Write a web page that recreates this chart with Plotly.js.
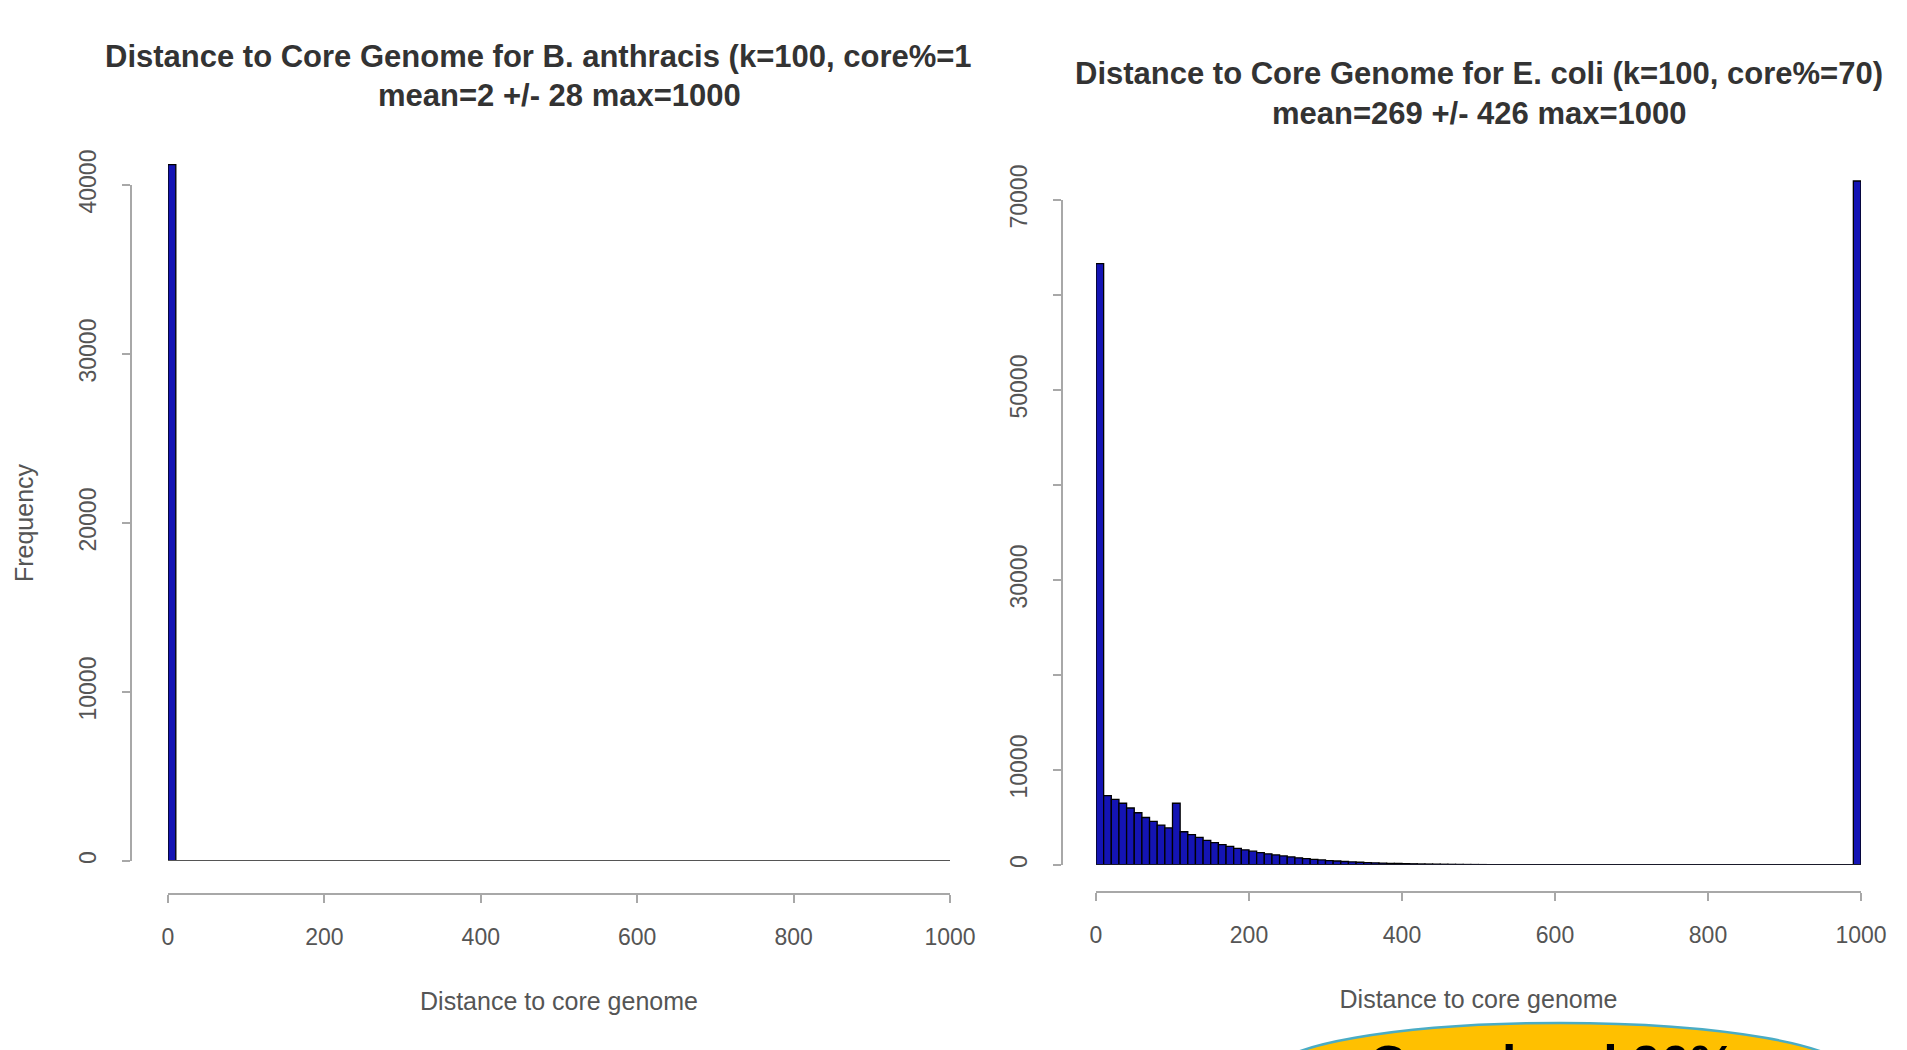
<!DOCTYPE html>
<html>
<head>
<meta charset="utf-8">
<script src="https://cdn.plot.ly/plotly-3.0.1.min.js"></script>
<style>html,body{margin:0;padding:0;background:#fff;}#chart{width:1907px;height:1050px;}</style>
</head>
<body>
<div id="chart"></div>
<script>
// Histogram bins (left edges, width 10) from 0 to 990
const binEdges = [0,10,20,30,40,50,60,70,80,90,100,110,120,130,140,150,160,170,180,190,
  200,210,220,230,240,250,260,270,280,290,300,310,320,330,340,350,360,370,380,390,
  400,410,420,430,440,450,460,470,480,490,500,510,520,530,540,550,560,570,580,590,
  600,610,620,630,640,650,660,670,680,690,700,710,720,730,740,750,760,770,780,790,
  800,810,820,830,840,850,860,870,880,890,900,910,920,930,940,950,960,970,980,990];
const binWidth = 10;

// B. anthracis frequencies
const anthracisCounts = [41200,0,0,0,0,0,0,0,0,0, 0,0,0,0,0,0,0,0,0,0,
  0,0,0,0,0,0,0,0,0,0, 0,0,0,0,0,0,0,0,0,0,
  0,0,0,0,0,0,0,0,0,0, 0,0,0,0,0,0,0,0,0,0,
  0,0,0,0,0,0,0,0,0,0, 0,0,0,0,0,0,0,0,0,0,
  0,0,0,0,0,0,0,0,0,0, 0,0,0,0,0,0,0,0,0,0];

// E. coli frequencies
const coliCounts = [63300,7300,6900,6500,6000,5500,5000,4600,4200,3900,
  6500,3500,3200,2900,2600,2350,2150,1950,1750,1600,
  1450,1300,1180,1060,950,850,760,680,600,530,
  470,420,370,330,290,260,230,200,180,160,
  140,125,110,100,90,80,70,62,55,50,
  45,40,36,32,28,25,22,20,18,16,
  14,13,12,11,10,10,9,9,8,8,
  7,7,6,6,6,5,5,5,4,4,
  4,4,3,3,3,3,3,2,2,2,
  2,2,2,2,1,1,1,1,1,72000];

const xTicks = [0,200,400,600,800,1000];
const yTicksLeft = [0,10000,20000,30000,40000];
const yTicksRight = [0,10000,20000,30000,40000,50000,60000,70000];
const yLabelsRight = ['0','10000','','30000','','50000','','70000'];

const titleLeft1 = 'Distance to Core Genome for B. anthracis (k=100, core%=1';
const titleLeft2 = 'mean=2 +/- 28 max=1000';
const titleRight1 = 'Distance to Core Genome for E. coli (k=100, core%=70)';
const titleRight2 = 'mean=269 +/- 426 max=1000';
const xTitle = 'Distance to core genome';
const yTitle = 'Frequency';
const calloutText = 'Core level 90%';

const FONT = 'Liberation Sans, Arial, sans-serif';
const W = 1907, H = 1050;
const px = v => v / W;
const py = v => 1 - v / H;

// pixel geometry of each panel (tick span of the axes)
const L = {x0: 168, x1: 950, yZero: 861, yTop: 185, topVal: 40000, axisX: 131, axisY: 894, headroom: 43000};
const R = {x0: 1096, x1: 1861, yZero: 865, yTop: 200, topVal: 70000, axisX: 1062, axisY: 892, headroom: 75000};
const topPx = p => p.yZero - (p.yZero - p.yTop) * p.headroom / p.topVal;

const barStyle = {color: '#1414b4', line: {color: '#000', width: 1.3}};
const xEnd = binEdges[binEdges.length - 1] + binWidth;

const traces = [
  {type: 'bar', x: binEdges, y: anthracisCounts, width: binWidth, offset: 0,
   marker: barStyle, xaxis: 'x', yaxis: 'y', hoverinfo: 'x+y'},
  {type: 'scatter', mode: 'lines', x: [binEdges[0], xEnd], y: [0, 0],
   line: {color: '#555', width: 2}, xaxis: 'x', yaxis: 'y3', hoverinfo: 'skip'},
  {type: 'bar', x: binEdges, y: coliCounts, width: binWidth, offset: 0,
   marker: barStyle, xaxis: 'x2', yaxis: 'y2', hoverinfo: 'x+y'},
  {type: 'scatter', mode: 'lines', x: [binEdges[0], xEnd], y: [0, 0],
   line: {color: '#1a1a2a', width: 2}, xaxis: 'x2', yaxis: 'y4', hoverinfo: 'skip'}
];

const axisCommon = {
  showline: true, linecolor: '#a8a8a8', linewidth: 2,
  ticks: 'outside', ticklen: 8, tickwidth: 2, tickcolor: '#a8a8a8',
  showgrid: false, zeroline: false, fixedrange: true,
  tickfont: {family: FONT, size: 23, color: '#555'}
};
const hiddenY = {visible: false, showgrid: false, zeroline: false, fixedrange: true};

const layout = {
  width: W, height: H,
  margin: {l: 0, r: 0, t: 0, b: 0, pad: 0},
  paper_bgcolor: '#fff', plot_bgcolor: 'rgba(0,0,0,0)',
  showlegend: false, bargap: 0,
  font: {family: FONT},
  xaxis: Object.assign({}, axisCommon, {
    domain: [px(L.x0), px(L.x1)], range: [0, 1000], anchor: 'free', position: py(L.axisY),
    tickvals: xTicks, ticklabelstandoff: 14,
    title: {text: xTitle, font: {family: FONT, size: 25, color: '#555'}, standoff: 43}
  }),
  yaxis: Object.assign({}, hiddenY, {
    domain: [py(L.yZero), py(topPx(L))], range: [0, L.headroom], anchor: 'x'
  }),
  yaxis3: Object.assign({}, axisCommon, {
    domain: [py(L.yZero), py(L.yTop)], range: [0, L.topVal], anchor: 'free', position: px(L.axisX),
    tickvals: yTicksLeft, ticktext: yTicksLeft.map(String), tickangle: -90, ticklabelstandoff: 17,
    title: {text: yTitle, font: {family: FONT, size: 25, color: '#555'}, standoff: 33}
  }),
  xaxis2: Object.assign({}, axisCommon, {
    domain: [px(R.x0), px(R.x1)], range: [0, 1000], anchor: 'free', position: py(R.axisY),
    tickvals: xTicks, ticklabelstandoff: 14,
    title: {text: xTitle, font: {family: FONT, size: 25, color: '#555'}, standoff: 43}
  }),
  yaxis2: Object.assign({}, hiddenY, {
    domain: [py(R.yZero), py(topPx(R))], range: [0, R.headroom], anchor: 'x2'
  }),
  yaxis4: Object.assign({}, axisCommon, {
    domain: [py(R.yZero), py(R.yTop)], range: [0, R.topVal], anchor: 'free', position: px(R.axisX),
    tickvals: yTicksRight, ticktext: yLabelsRight, tickangle: -90, ticklabelstandoff: 17
  }),
  shapes: [
    {type: 'circle', xref: 'paper', yref: 'paper',
     x0: px(1270), x1: px(1850), y0: py(1124), y1: py(1023),
     fillcolor: '#FFC000', line: {color: '#4AACC5', width: 2.5}, layer: 'above'}
  ],
  annotations: [
    {xref: 'paper', yref: 'paper', x: px(103), y: py(57), xanchor: 'left', yanchor: 'middle',
     text: '<b>' + titleLeft1 + '</b>', showarrow: false, font: {family: FONT, size: 31, color: '#333'}},
    {xref: 'paper', yref: 'paper', x: px(559), y: py(95), xanchor: 'center', yanchor: 'middle',
     text: '<b>' + titleLeft2 + '</b>', showarrow: false, font: {family: FONT, size: 31, color: '#333'}},
    {xref: 'paper', yref: 'paper', x: px(1479), y: py(73), xanchor: 'center', yanchor: 'middle',
     text: '<b>' + titleRight1 + '</b>', showarrow: false, font: {family: FONT, size: 31, color: '#333'}},
    {xref: 'paper', yref: 'paper', x: px(1479), y: py(113), xanchor: 'center', yanchor: 'middle',
     text: '<b>' + titleRight2 + '</b>', showarrow: false, font: {family: FONT, size: 31, color: '#333'}},
    {xref: 'paper', yref: 'paper', x: px(1552), y: py(1064), xanchor: 'center', yanchor: 'middle',
     text: '<b>' + calloutText + '</b>', showarrow: false, font: {family: FONT, size: 52, color: '#000'}}
  ]
};

Plotly.newPlot('chart', traces, layout, {displayModeBar: false, staticPlot: true});
</script>
</body>
</html>
